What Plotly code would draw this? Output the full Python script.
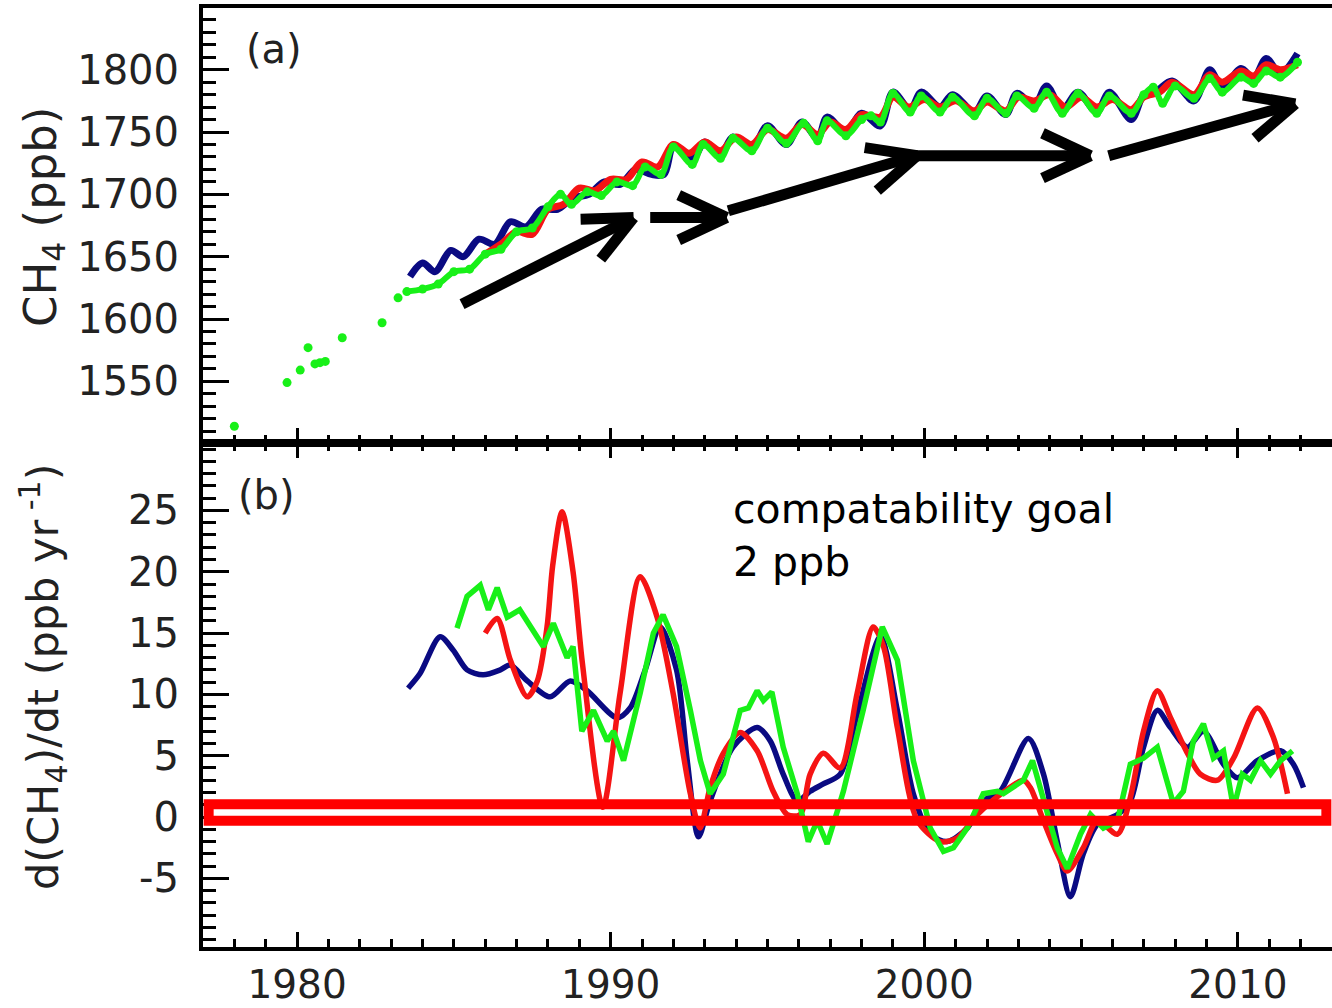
import math
import plotly.graph_objects as go

# ---------------- data: panel (a) CH4 (ppb) ----------------
green_early_year = [1978.0, 1979.68, 1980.1, 1980.35, 1980.57, 1980.73, 1980.9, 1981.44, 1982.71, 1983.22]
green_early_ch4 = [1514, 1549, 1559, 1577, 1564, 1565, 1566, 1585, 1597, 1617]

green_year = [1983.5, 1984.0, 1984.5, 1985.0, 1985.5, 1986.0, 1986.5, 1987.0, 1987.5, 1988.0, 1988.4, 1988.75,
              1989.25, 1989.7, 1990.2, 1990.7, 1991.1, 1991.6, 1992.0, 1992.6, 1992.95, 1993.5, 1993.9, 1994.5,
              1995.0, 1995.6, 1996.15, 1996.6, 1996.9, 1997.5, 1998.0, 1998.3, 1998.6, 1999.0, 1999.55, 1999.9,
              2000.5, 2000.9, 2001.6, 2002.0, 2002.6, 2002.95, 2003.5, 2003.9, 2004.4, 2004.9, 2005.5, 2005.9,
              2006.6, 2007.0, 2007.3, 2007.6, 2008.0, 2008.6, 2009.1, 2009.5, 2010.1, 2010.5, 2010.9, 2011.35, 2011.9]
green_ch4 = [1622, 1624, 1628, 1638, 1640, 1652, 1656, 1670, 1673, 1690, 1700, 1692,
             1702, 1699, 1710, 1707, 1722, 1716, 1738, 1724, 1740, 1729, 1745, 1735,
             1753, 1741, 1757, 1743, 1759, 1747, 1760, 1763, 1758, 1781, 1766, 1779,
             1766, 1778, 1763, 1777, 1765, 1779, 1769, 1782, 1765, 1781, 1765, 1779,
             1765, 1780, 1786, 1773, 1787, 1777, 1793, 1782, 1794, 1789, 1799, 1794, 1806]

blue_year = [1983.6, 1984.0, 1984.4, 1984.9, 1985.3, 1985.8, 1986.3, 1986.8, 1987.3, 1987.8, 1988.3, 1988.8,
             1989.3, 1989.8, 1990.3, 1990.8, 1991.3, 1991.7, 1992.0, 1992.6, 1993.0, 1993.5, 1993.9, 1994.5,
             1995.0, 1995.6, 1996.1, 1996.6, 1996.9, 1997.5, 1998.0, 1998.6, 1999.0, 1999.55, 1999.9, 2000.5,
             2000.9, 2001.6, 2002.0, 2002.6, 2002.95, 2003.5, 2003.9, 2004.4, 2004.9, 2005.5, 2005.9, 2006.6,
             2007.0, 2007.4, 2007.9, 2008.6, 2009.1, 2009.5, 2010.1, 2010.5, 2010.9, 2011.35, 2011.9]
blue_ch4 = [1634, 1645, 1638, 1655, 1650, 1664, 1660, 1678, 1674, 1688, 1688, 1697,
            1700, 1710, 1708, 1720, 1716, 1716, 1738, 1728, 1742, 1732, 1746, 1737,
            1755, 1740, 1758, 1745, 1762, 1750, 1765, 1755, 1782, 1768, 1782, 1770,
            1780, 1766, 1779, 1764, 1781, 1771, 1787, 1768, 1782, 1766, 1782, 1760,
            1780, 1783, 1791, 1775, 1800, 1786, 1801, 1793, 1809, 1797, 1813]

red_year = [1986.0, 1986.5, 1987.0, 1987.5, 1988.0, 1988.5, 1989.0, 1989.5, 1990.0, 1990.5, 1991.0, 1991.5,
            1992.0, 1992.5, 1993.0, 1993.5, 1994.0, 1994.5, 1995.0, 1995.6, 1996.1, 1996.6, 1997.0, 1997.5,
            1998.0, 1998.6, 1999.0, 1999.5, 2000.0, 2000.5, 2001.0, 2001.6, 2002.0, 2002.6, 2003.0, 2003.5,
            2004.0, 2004.5, 2005.0, 2005.5, 2006.0, 2006.6, 2007.0, 2007.5, 2007.9, 2008.6, 2009.1, 2009.5,
            2010.1, 2010.5, 2010.9, 2011.35, 2011.9]
red_ch4 = [1652, 1660, 1670, 1668, 1688, 1692, 1705, 1703, 1712, 1712, 1726, 1722,
           1740, 1733, 1742, 1735, 1746, 1740, 1752, 1745, 1756, 1748, 1758, 1752,
           1764, 1762, 1778, 1770, 1776, 1770, 1775, 1767, 1774, 1767, 1778, 1775,
           1780, 1770, 1778, 1770, 1776, 1768, 1778, 1782, 1790, 1780, 1796, 1790,
           1799, 1795, 1804, 1800, 1804]

# ---------------- data: panel (b) growth rate (ppb/yr) ----------------
blue_g_year = [1983.54, 1983.92, 1984.56, 1984.98, 1985.42, 1985.93, 1986.48, 1986.8, 1987.34, 1988.07, 1988.71,
               1989.25, 1990.2, 1990.62, 1991.1, 1991.58, 1992.1, 1992.44, 1992.8, 1993.17, 1993.9, 1994.67,
               1995.09, 1995.5, 1995.95, 1996.36, 1996.78, 1997.32, 1997.86, 1998.6, 1999.14, 1999.65, 2000.19,
               2000.73, 2001.37, 2001.88, 2002.42, 2003.32, 2003.8, 2004.24, 2004.66, 2005.07, 2005.52, 2006.16,
               2006.57, 2006.99, 2007.43, 2007.85, 2008.39, 2008.9, 2009.54, 2009.98, 2010.62, 2011.36, 2011.77,
               2012.09]
blue_g = [10.5, 11.7, 14.7, 13.6, 12.0, 11.6, 12.0, 12.4, 11.1, 9.8, 11.1,
          10.3, 8.1, 8.9, 12.0, 15.5, 12.0, 4.6, -1.6, 1.3, 5.7, 7.3,
          6.2, 3.5, 1.3, 2.1, 2.7, 3.5, 8.4, 14.7, 8.7, 1.9, -1.4,
          -2.0, -0.9, 1.3, 2.1, 6.4, 3.5, -2.0, -6.5, -3.0, -0.6, 0.2,
          1.3, 5.7, 8.7, 7.3, 5.7, 7.0, 4.3, 3.2, 4.6, 5.4, 4.3,
          2.4]

red_g_year = [1986.0, 1986.38, 1986.8, 1987.34, 1987.66, 1987.97, 1988.15, 1988.45, 1988.8, 1989.1, 1989.75,
              1990.3, 1990.94, 1991.48, 1991.99, 1992.54, 1992.85, 1993.17, 1993.59, 1994.13, 1994.67, 1995.18,
              1995.63, 1996.04, 1996.36, 1996.78, 1997.32, 1997.86, 1998.37, 1998.7, 1999.14, 1999.78, 2000.51,
              2001.05, 2001.69, 2002.4, 2003.16, 2003.38, 2003.8, 2004.24, 2004.56, 2005.07, 2005.52, 2006.16,
              2006.57, 2006.99, 2007.43, 2007.85, 2008.39, 2008.8, 2009.35, 2009.86, 2010.62, 2011.13, 2011.58]
red_g = [15.0, 16.2, 12.8, 9.8, 11.1, 15.5, 20.5, 24.9, 20.0, 12.5, 0.8,
         10.1, 19.6, 16.3, 10.1, 1.9, -0.9, 2.4, 5.2, 6.9, 5.4, 2.1,
         0.2, 0.2, 3.5, 5.2, 4.0, 10.1, 15.5, 13.9, 7.3, -0.3, -2.0,
         -1.7, 0.2, 1.8, 3.0, 2.4, -0.3, -3.0, -4.4, -2.5, -0.3, -1.4,
         1.6, 7.0, 10.3, 8.1, 5.2, 3.5, 3.0, 4.8, 8.9, 6.5, 1.9]

green_g_year = [1985.1, 1985.42, 1985.84, 1986.1, 1986.38, 1986.7, 1987.1, 1987.53, 1987.85, 1988.17, 1988.61,
                1988.8, 1989.08, 1989.45, 1989.89, 1990.09, 1990.41, 1990.94, 1991.36, 1991.67, 1992.1, 1992.54,
                1992.86, 1993.17, 1993.59, 1994.13, 1994.39, 1994.67, 1994.87, 1995.14, 1995.5, 1995.95, 1996.3,
                1996.59, 1996.9, 1997.23, 1997.42, 1998.05, 1998.66, 1999.14, 1999.65, 2000.19, 2000.61, 2000.93,
                2001.37, 2001.88, 2002.33, 2002.52, 2003.16, 2003.45, 2003.8, 2004.24, 2004.56, 2004.98, 2005.3,
                2005.71, 2006.16, 2006.57, 2006.99, 2007.43, 2007.94, 2008.26, 2008.58, 2008.9, 2009.22, 2009.54,
                2009.86, 2010.14, 2010.4, 2010.72, 2011.04, 2011.36, 2011.74]
green_g = [15.4, 18.0, 18.9, 16.9, 18.7, 16.3, 16.9, 15.2, 13.9, 15.8, 13.0,
           13.9, 7.0, 8.7, 6.2, 7.0, 4.6, 10.1, 15.0, 16.5, 13.9, 8.7,
           4.6, 1.9, 3.5, 8.7, 8.9, 10.3, 9.5, 10.2, 5.7, 1.9, -2.0,
           -0.3, -2.2, 0.5, 2.1, 8.7, 15.5, 12.8, 4.6, -0.9, -2.8, -2.5,
           -0.9, 1.9, 2.1, 1.9, 3.0, 4.6, 1.6, -2.5, -4.2, -1.4, 0.2,
           -0.9, -0.3, 4.3, 4.8, 5.7, 1.1, 2.1, 6.2, 7.6, 4.8, 5.4,
           0.7, 3.5, 3.0, 4.6, 3.5, 4.6, 5.4]

top_tick_step = 50
bottom_tickvals = [-5, 0, 5, 10, 15, 20, 25]
bottom_ticktext = ["-5", "0", "5", "10", "15", "20", "25"]

# arrows in panel (a): (tail_year, tail_ch4, tip_year, tip_ch4)
arrows = [
    (1985.26, 1612.0, 1990.73, 1681.4),
    (1991.26, 1681.4, 1993.70, 1681.4),
    (1993.75, 1686.8, 1999.77, 1731.1),
    (1999.71, 1731.0, 2005.30, 1731.0),
    (2005.88, 1731.0, 2011.83, 1772.6),
]
goal_band = (-0.3, 1.05)

# ---------------- layout constants ----------------
W, H = 1332, 1008
ML, MR, MT, MB = 203, 0, 8, 61
SPLIT = 0.5367
X_RANGE = [1977, 2013]
TOP_RANGE = [1500.5, 1849.5]
BOT_RANGE = [-10.6, 30.5]

BLUE = "#0a0a82"
RED = "#f51414"
GREEN = "#18f018"
TXT = "#222222"
FONT = "DejaVu Sans"

fig = go.Figure()

# panel (a)
fig.add_trace(go.Scatter(x=blue_year, y=blue_ch4, mode="lines",
                         line=dict(color=BLUE, width=7, shape="spline", smoothing=0.9),
                         xaxis="x", yaxis="y", hoverinfo="skip"))
fig.add_trace(go.Scatter(x=red_year, y=red_ch4, mode="lines",
                         line=dict(color=RED, width=7, shape="spline", smoothing=0.9),
                         xaxis="x", yaxis="y", hoverinfo="skip"))
fig.add_trace(go.Scatter(x=green_year, y=green_ch4, mode="lines+markers",
                         line=dict(color=GREEN, width=6, shape="spline", smoothing=0.9),
                         marker=dict(color=GREEN, size=9), xaxis="x", yaxis="y", hoverinfo="skip"))
fig.add_trace(go.Scatter(x=green_early_year, y=green_early_ch4, mode="markers",
                         marker=dict(color=GREEN, size=9), xaxis="x", yaxis="y", hoverinfo="skip"))

# panel (b)
fig.add_trace(go.Scatter(x=blue_g_year, y=blue_g, mode="lines",
                         line=dict(color=BLUE, width=5.5, shape="spline", smoothing=0.8),
                         xaxis="x2", yaxis="y2", hoverinfo="skip"))
fig.add_trace(go.Scatter(x=red_g_year, y=red_g, mode="lines",
                         line=dict(color=RED, width=5.5, shape="spline", smoothing=0.8),
                         xaxis="x2", yaxis="y2", hoverinfo="skip"))
fig.add_trace(go.Scatter(x=green_g_year, y=green_g, mode="lines", line=dict(color=GREEN, width=5.5),
                         xaxis="x2", yaxis="y2", hoverinfo="skip"))

# compatibility goal box
fig.add_shape(type="rect", xref="x2 domain", yref="y2", x0=0.005, x1=0.995,
              y0=goal_band[0], y1=goal_band[1], line=dict(color="#ff0000", width=10), fillcolor="rgba(0,0,0,0)")

# arrows: shafts and chevron arms drawn as line shapes in data coordinates
plot_w = W - ML - MR
plot_h = H - MT - MB
px_per_year = plot_w / (X_RANGE[1] - X_RANGE[0])
px_per_ppb = plot_h * (1 - SPLIT) / (TOP_RANGE[1] - TOP_RANGE[0])
ARM_LEN = 53
ARM_ANG = math.radians(25)
for tx, ty, hx, hy in arrows:
    fig.add_shape(type="line", xref="x", yref="y", x0=tx, y0=ty, x1=hx, y1=hy,
                  line=dict(color="black", width=11))
    dx = (hx - tx) * px_per_year
    dy = (hy - ty) * px_per_ppb
    n = math.hypot(dx, dy)
    bx, by = -dx / n, -dy / n
    for s in (1, -1):
        a = s * ARM_ANG
        ox = bx * math.cos(a) - by * math.sin(a)
        oy = bx * math.sin(a) + by * math.cos(a)
        fig.add_shape(type="line", xref="x", yref="y", x0=hx, y0=hy,
                      x1=hx + ox * ARM_LEN / px_per_year, y1=hy + oy * ARM_LEN / px_per_ppb,
                      line=dict(color="black", width=11))

annotations = [
    dict(x=1978.3, y=1817, xref="x", yref="y", text="(a)", showarrow=False, xanchor="left", yanchor="middle",
         font=dict(family=FONT, size=40, color=TXT)),
    dict(x=1978.05, y=26.3, xref="x2", yref="y2", text="(b)", showarrow=False, xanchor="left", yanchor="middle",
         font=dict(family=FONT, size=40, color=TXT)),
    dict(x=1993.85, y=27.2, xref="x2", yref="y2", text="compatability goal<br>2 ppb", showarrow=False,
         xanchor="left", yanchor="top", align="left", font=dict(family=FONT, size=41, color="black")),
    dict(x=(43 - ML) / plot_w, y=(H - MB - 217) / plot_h, xref="paper", yref="paper",
         text="CH<sub>4</sub> (ppb)", textangle=-90, showarrow=False, xanchor="center", yanchor="middle",
         font=dict(family=FONT, size=45, color=TXT)),
    dict(x=(43 - ML) / plot_w, y=(H - MB - 677) / plot_h, xref="paper", yref="paper",
         text="d(CH<sub>4</sub>)/dt (ppb yr<sup> -1</sup>)", textangle=-90, showarrow=False,
         xanchor="center", yanchor="middle", font=dict(family=FONT, size=43, color=TXT)),
]

common = dict(showline=True, linecolor="black", linewidth=4, ticks="inside", tickcolor="black", tickwidth=3,
              showgrid=False, zeroline=False, automargin=False)

fig.update_layout(
    width=W, height=H, margin=dict(l=ML, r=MR, t=MT, b=MB, pad=0),
    paper_bgcolor="white", plot_bgcolor="white", showlegend=False,
    font=dict(family=FONT, size=40, color=TXT),
    xaxis=dict(domain=[0, 1], anchor="y", range=X_RANGE, tick0=1980, dtick=10, ticklen=15,
               showticklabels=False, mirror=True,
               minor=dict(tick0=1980, dtick=1, ticks="inside", ticklen=8, tickwidth=3, tickcolor="black", showgrid=False),
               **common),
    yaxis=dict(domain=[SPLIT, 1], anchor="x", range=TOP_RANGE, tick0=1500, dtick=top_tick_step, ticklen=26,
               ticklabelstandoff=12,
               minor=dict(tick0=1500, dtick=10, ticks="inside", ticklen=13, tickwidth=3, tickcolor="black", showgrid=False),
               **common),
    xaxis2=dict(domain=[0, 1], anchor="y2", range=X_RANGE, tick0=1980, dtick=10, ticklen=15, mirror="ticks",
                ticklabelstandoff=0, tickfont=dict(family=FONT, size=39, color=TXT),
                minor=dict(tick0=1980, dtick=1, ticks="inside", ticklen=8, tickwidth=3, tickcolor="black", showgrid=False),
                **common),
    yaxis2=dict(domain=[0, SPLIT], anchor="x2", range=BOT_RANGE, tickmode="array", tickvals=bottom_tickvals,
                ticktext=bottom_ticktext, ticklen=26, ticklabelstandoff=12,
                minor=dict(tickmode="linear", tick0=0, dtick=1, ticks="inside", ticklen=13, tickwidth=3,
                           tickcolor="black", showgrid=False),
                **common),
    annotations=annotations,
)

fig.write_html("out.html")
